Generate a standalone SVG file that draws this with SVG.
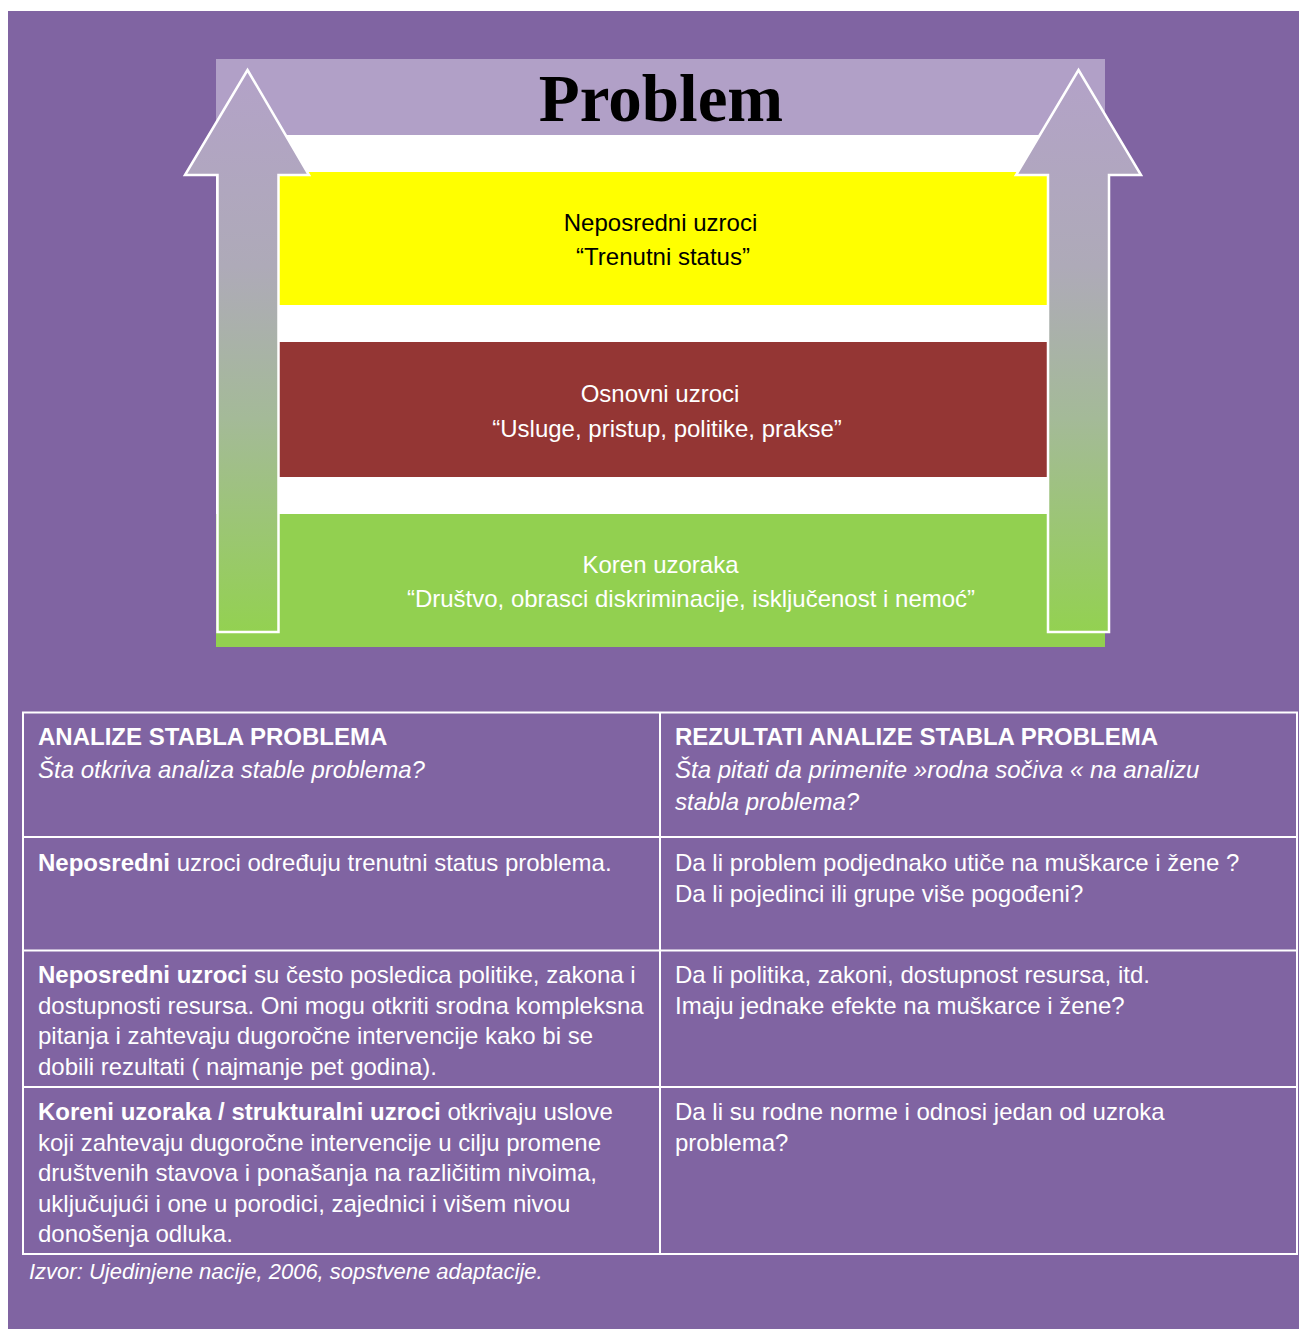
<svg xmlns="http://www.w3.org/2000/svg" width="1299" height="1329" viewBox="0 0 1299 1329">
<defs>
<linearGradient id="arrowGrad" gradientUnits="userSpaceOnUse" x1="0" y1="70" x2="0" y2="632">
<stop offset="0" stop-color="#B3A2C8"/>
<stop offset="0.35" stop-color="#AEAAB8"/>
<stop offset="0.62" stop-color="#A4BA98"/>
<stop offset="1" stop-color="#93D151"/>
</linearGradient>
<style>
.t{font-family:"Liberation Sans",Arial,sans-serif;font-size:24px;}
.w{fill:#FFFFFF;}
.k{fill:#000000;}
.b{font-weight:bold;}
.i{font-style:italic;}
.mid{text-anchor:middle;}
.line{stroke:#FFFFFF;stroke-width:2;fill:none;}
.arrow{fill:url(#arrowGrad);stroke:#FFFFFF;stroke-width:2.5;stroke-linejoin:miter;}
</style>
</defs>
<rect x="0" y="0" width="1299" height="1329" fill="#FFFFFF"/>
<rect x="8" y="11" width="1291" height="1318" fill="#8064A2"/>

<g id="tree">
<rect x="216" y="135" width="889" height="512" fill="#FFFFFF"/>
<g id="title">
<rect x="216" y="59" width="889" height="76" fill="#B1A0C7"/>
<text x="661" y="121" font-family="'Liberation Serif','Times New Roman',serif" font-size="67" font-weight="bold" text-anchor="middle" fill="#000000">Problem</text>
</g>
<g id="neposredni">
<rect x="279" y="172" width="768" height="133" fill="#FFFF00"/>
<text class="t k mid" x="660.5" y="231">Neposredni uzroci</text>
<text class="t k mid" x="663" y="265">“Trenutni status”</text>
</g>
<g id="osnovni">
<rect x="279" y="342" width="768" height="135" fill="#943634"/>
<text class="t w mid" x="660" y="402">Osnovni uzroci</text>
<text class="t w mid" x="667" y="437">“Usluge, pristup, politike, prakse”</text>
</g>
<g id="koren">
<rect x="216" y="514" width="889" height="133" fill="#92D050"/>
<text class="t w mid" x="660.5" y="573">Koren uzoraka</text>
<text class="t w mid" x="691" y="607">“Društvo, obrasci diskriminacije, isključenost i nemoć”</text>
</g>
</g>

<g id="connectors">
<path id="arrow-left" class="arrow" d="M247.5,70 L309,175 L278.5,175 L278.5,632 L217.5,632 L217.5,175 L185,175 Z"/>
<path id="arrow-right" class="arrow" d="M1078.5,70 L1141,175 L1109,175 L1109,632 L1048,632 L1048,175 L1016,175 Z"/>
</g>

<g id="table">
<rect class="line" x="23" y="712.5" width="1274" height="541.5"/>
<line class="line" x1="660" y1="712.5" x2="660" y2="1254"/>
<line class="line" x1="23" y1="837" x2="1297" y2="837"/>
<line class="line" x1="23" y1="950.5" x2="1297" y2="950.5"/>
<line class="line" x1="23" y1="1087" x2="1297" y2="1087"/>

<g id="cell-h1">
<text class="t w b" x="38" y="745">ANALIZE STABLA PROBLEMA</text>
<text class="t w i" x="38" y="777.5">Šta otkriva analiza stable problema?</text>
</g>
<g id="cell-h2">
<text class="t w b" x="675" y="745">REZULTATI ANALIZE STABLA PROBLEMA</text>
<text class="t w i" x="675" y="777.5">Šta pitati da primenite »rodna sočiva « na analizu</text>
<text class="t w i" x="675" y="809.5">stabla problema?</text>
</g>
<g id="cell-r1c1">
<text class="t w" x="38" y="871"><tspan class="b">Neposredni</tspan> uzroci određuju trenutni status problema.</text>
</g>
<g id="cell-r1c2">
<text class="t w" x="675" y="871">Da li problem podjednako utiče na muškarce i žene ?</text>
<text class="t w" x="675" y="902">Da li pojedinci ili grupe više pogođeni?</text>
</g>
<g id="cell-r2c1">
<text class="t w" x="38" y="983"><tspan class="b">Neposredni uzroci</tspan> su često posledica politike, zakona i</text>
<text class="t w" x="38" y="1013.5">dostupnosti resursa. Oni mogu otkriti srodna kompleksna</text>
<text class="t w" x="38" y="1044">pitanja i zahtevaju dugoročne intervencije kako bi se</text>
<text class="t w" x="38" y="1074.5">dobili rezultati ( najmanje pet godina).</text>
</g>
<g id="cell-r2c2">
<text class="t w" x="675" y="983">Da li politika, zakoni, dostupnost resursa, itd.</text>
<text class="t w" x="675" y="1013.5">Imaju jednake efekte na muškarce i žene?</text>
</g>
<g id="cell-r3c1">
<text class="t w" x="38" y="1120"><tspan class="b">Koreni uzoraka / strukturalni uzroci</tspan> otkrivaju uslove</text>
<text class="t w" x="38" y="1150.5">koji zahtevaju dugoročne intervencije u cilju promene</text>
<text class="t w" x="38" y="1181">društvenih stavova i ponašanja na različitim nivoima,</text>
<text class="t w" x="38" y="1211.5">uključujući i one u porodici, zajednici i višem nivou</text>
<text class="t w" x="38" y="1242">donošenja odluka.</text>
</g>
<g id="cell-r3c2">
<text class="t w" x="675" y="1120">Da li su rodne norme i odnosi jedan od uzroka</text>
<text class="t w" x="675" y="1150.5">problema?</text>
</g>
</g>

<g id="source">
<text class="t w i" x="29" y="1279" font-size="22" style="font-size:22px">Izvor: Ujedinjene nacije, 2006, sopstvene adaptacije.</text>
</g>
</svg>
